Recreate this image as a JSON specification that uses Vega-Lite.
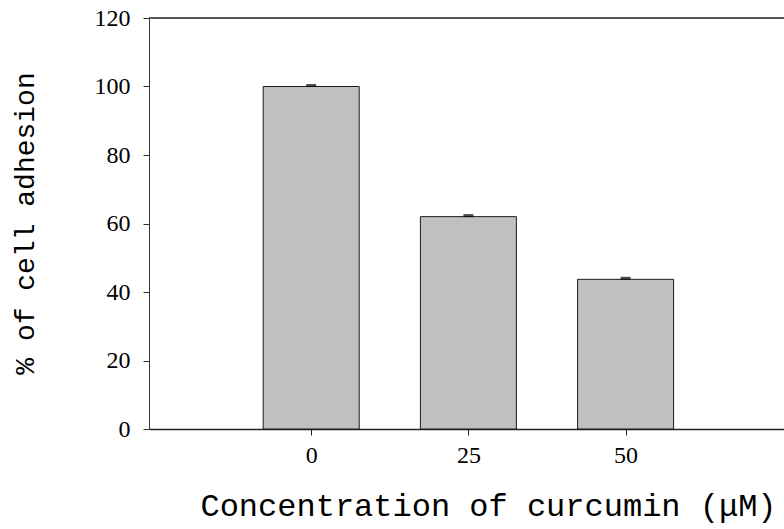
{
  "$schema": "https://vega.github.io/schema/vega-lite/v6.json",
  "width": 635,
  "height": 411,
  "autosize": "none",
  "padding": {"left": 149, "top": 18, "right": 0, "bottom": 100},
  "background": "white",
  "config": {"view": {"stroke": null}},
  "data": {"values": [
    {"conc": 0, "adhesion": 100.0, "err": 0.3},
    {"conc": 25, "adhesion": 62.0, "err": 0.3},
    {"conc": 50, "adhesion": 43.7, "err": 0.3}
  ]},
  "layer": [
    {
      "mark": {"type": "bar", "size": 96, "color": "#c0c0c0", "stroke": "#1a1a1a", "strokeWidth": 1},
      "encoding": {
        "x": {
          "field": "conc", "type": "quantitative",
          "scale": {"domain": [-25, 74.4], "nice": false, "zero": false},
          "axis": {
            "values": [0, 25, 50], "grid": false,
            "domainColor": "#222", "domainWidth": 1.5,
            "tickColor": "#222", "tickSize": 6, "tickWidth": 1,
            "labelFont": "Liberation Serif", "labelFontSize": 24, "labelColor": "#000",
            "labelPadding": 8,
            "title": "Concentration of curcumin (μM)",
            "titleFont": "Liberation Mono", "titleFontSize": 32, "titleFontWeight": "normal",
            "titleColor": "#000", "titleX": 339, "titleY": 86, "titleAlign": "center",
            "titleBaseline": "alphabetic"
          }
        },
        "y": {
          "field": "adhesion", "type": "quantitative",
          "scale": {"domain": [0, 120], "nice": false},
          "axis": {
            "values": [0, 20, 40, 60, 80, 100, 120], "grid": false,
            "domainColor": "#333", "domainWidth": 1,
            "tickColor": "#333", "tickSize": 6, "tickWidth": 1,
            "labelFont": "Liberation Serif", "labelFontSize": 24, "labelColor": "#000",
            "labelPadding": 13,
            "title": "% of cell adhesion",
            "titleFont": "Liberation Mono", "titleFontSize": 28, "titleFontWeight": "normal",
            "titleColor": "#000", "titleX": -124, "titleY": 205, "titleAngle": -90,
            "titleAlign": "center", "titleBaseline": "middle"
          }
        }
      }
    },
    {
      "transform": [{"calculate": "datum.adhesion + datum.err", "as": "hi"}],
      "mark": {"type": "tick", "orient": "horizontal", "color": "#000", "size": 10, "thickness": 3},
      "encoding": {
        "x": {"field": "conc", "type": "quantitative"},
        "y": {"field": "hi", "type": "quantitative"}
      }
    },
    {
      "mark": {"type": "rule", "color": "#555", "strokeWidth": 1.5},
      "encoding": {
        "y": {"datum": 120, "type": "quantitative"}
      }
    }
  ]
}
